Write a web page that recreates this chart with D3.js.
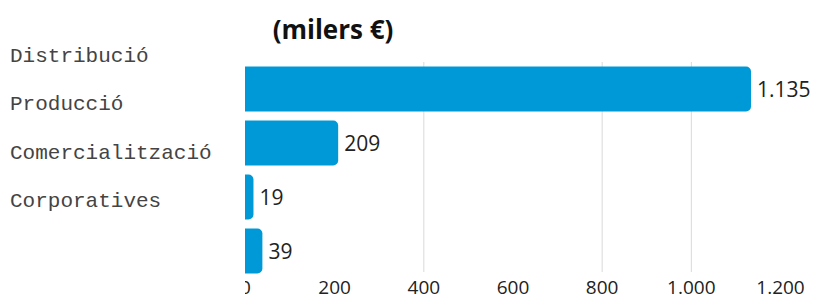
<!DOCTYPE html>
<html>
<head>
<meta charset="utf-8">
<script src="https://cdn.jsdelivr.net/npm/d3@7"></script>
<style>
  body { margin: 0; background: #fff; }
  svg { display: block; }
</style>
</head>
<body>
<svg id="chart"></svg>
<script>
// data
var categories = ["Distribució", "Producció", "Comercialització", "Corporatives"];
var values = [1135, 209, 19, 39];
var tickValues = [0, 200, 400, 600, 800, 1000, 1200];
var gridValues = [400, 800, 1000];
var title = "(milers €)";

var width = 814, height = 300;
var svg = d3.select("#chart").attr("width", width).attr("height", height);

var fmt = function(v) { return d3.format(",")(v).replace(/,/g, "."); };

// scales
var x = d3.scaleLinear().domain([0, 1200]).range([245, 780]);
var y = d3.scaleBand().domain(categories).range([62, 278]).paddingInner(0.17).paddingOuter(0.085);
var yLabel = d3.scalePoint().domain(categories).range([62, 207]);

// clip everything left of zero
svg.append("clipPath").attr("id", "plotclip")
  .append("rect").attr("x", x(0)).attr("y", 0).attr("width", width - x(0)).attr("height", height);

var plot = svg.append("g").attr("clip-path", "url(#plotclip)");

// gridlines
plot.selectAll(".grid")
    .data(gridValues)
  .enter().append("line")
    .attr("class", "grid")
    .attr("x1", function(d) { return x(d) + 0.5; })
    .attr("x2", function(d) { return x(d) + 0.5; })
    .attr("y1", 62)
    .attr("y2", 272)
    .attr("stroke", "#d9d9d9")
    .attr("stroke-width", 1);

// bars
plot.selectAll(".bar")
    .data(values)
  .enter().append("rect")
    .attr("class", "bar")
    .attr("x", x(0) - 8)
    .attr("y", function(d, i) { return y(categories[i]); })
    .attr("width", function(d) { return x(d) - x(0) + 8; })
    .attr("height", y.bandwidth())
    .attr("rx", 5)
    .attr("fill", "#0099d8");

// value labels
svg.selectAll(".val")
    .data(values)
  .enter().append("text")
    .attr("class", "val")
    .attr("x", function(d) { return x(d) + 6; })
    .attr("y", function(d, i) { return y(categories[i]) + y.bandwidth() / 2; })
    .attr("dy", "0.36em")
    .style("font-family", "'Open Sans', sans-serif")
    .style("font-size", "21px")
    .style("fill", "#222")
    .text(fmt);

// x axis
var xAxis = d3.axisBottom(x).tickValues(tickValues).tickSize(0).tickFormat(fmt);
var ax = plot.append("g")
    .attr("transform", "translate(0,277)")
    .call(xAxis);
ax.select(".domain").remove();
ax.selectAll("text")
    .attr("dy", "0.71em")
    .style("font-family", "'Open Sans', sans-serif")
    .style("font-size", "19px")
    .style("fill", "#222");

// category labels
svg.selectAll(".cat")
    .data(categories)
  .enter().append("text")
    .attr("class", "cat")
    .attr("x", 10)
    .attr("y", function(d) { return yLabel(d); })
    .style("font-family", "'Liberation Mono', monospace")
    .style("font-size", "21px")
    .style("fill", "#444")
    .text(function(d) { return d; });

// title
svg.append("text")
    .attr("x", 333)
    .attr("y", 39)
    .attr("text-anchor", "middle")
    .style("font-family", "'Open Sans', sans-serif")
    .style("font-weight", "bold")
    .style("font-size", "26px")
    .style("fill", "#111")
    .text(title);
</script>
</body>
</html>
